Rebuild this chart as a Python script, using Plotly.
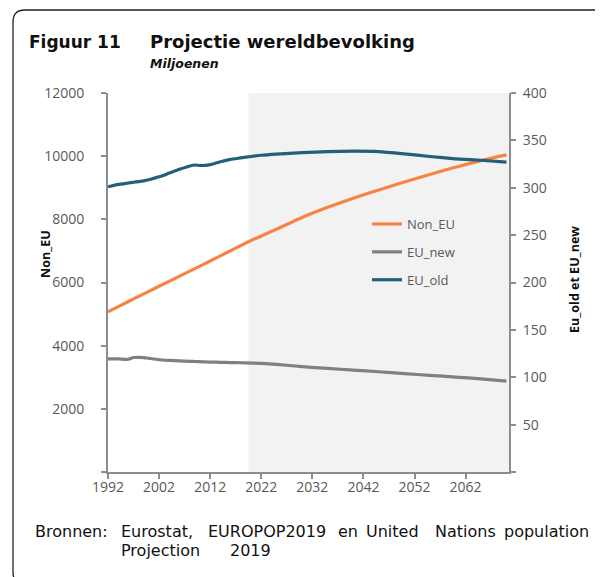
import plotly.graph_objects as go

# ---------------- data ----------------
years = [1992, 1994, 1996, 1997, 1998, 1999, 2000, 2002, 2004, 2006, 2008, 2009,
         2010, 2011, 2012, 2014, 2016, 2018, 2020, 2022, 2025, 2030, 2035, 2040,
         2045, 2050, 2055, 2060, 2065, 2070]

non_eu = [5070, 5235, 5400, 5480, 5560, 5640, 5720, 5880, 6040, 6200, 6360, 6440,
          6520, 6600, 6680, 6845, 7005, 7170, 7330, 7470, 7690, 8060, 8380, 8670,
          8930, 9180, 9420, 9650, 9860, 10040]

eu_new = [119.3, 119.3, 119.0, 120.8, 121.0, 120.8, 120.0, 118.5, 117.8, 117.3, 116.8, 116.6,
          116.4, 116.2, 116.0, 115.8, 115.5, 115.3, 115.0, 114.7, 113.6, 111.2, 109.3, 107.6,
          105.8, 103.8, 102.0, 100.2, 98.3, 96.0]

eu_old = [301.0, 303.5, 305.0, 305.8, 306.5, 307.3, 308.5, 311.5, 315.5, 319.5, 323.0, 324.0,
          323.5, 323.6, 324.4, 327.5, 330.0, 331.5, 333.0, 334.3, 335.5, 337.0, 338.2, 338.6,
          338.2, 335.8, 333.0, 330.5, 329.0, 327.0]

x_tick_years = [1992, 2002, 2012, 2022, 2032, 2042, 2052, 2062]
left_ticks = [0, 2000, 4000, 6000, 8000, 10000, 12000]
right_ticks = [0, 50, 100, 150, 200, 250, 300, 350, 400]
projection_start = 2019.5
projection_end = 2070.5

# ---------------- layout geometry ----------------
# the page body has an 8px margin, so the figure is 8px smaller and window
# coordinates below are converted relative to the plot area.
OFF = 8
W, H = 603 - OFF, 577 - OFF
L, R, T, B = 108, 509, 93, 472  # plot area in window pixels


def px(X):
    return (X - L) / (R - L)


def py(Y):
    return (B - Y) / (B - T)


TICK_FONT = dict(family="Open Sans", size=14, color="#595959")
AXIS_COL = "#8C8C8C"

fig = go.Figure()

fig.add_trace(go.Scatter(x=years, y=non_eu, name="Non_EU", mode="lines",
                         line=dict(color="#F58445", width=3.2, shape="spline", smoothing=0.5),
                         legendgroup="a", yaxis="y"))
fig.add_trace(go.Scatter(x=years, y=eu_new, name="EU_new", mode="lines",
                         line=dict(color="#808080", width=3.2, shape="spline", smoothing=0.5),
                         legendgroup="b", yaxis="y2"))
fig.add_trace(go.Scatter(x=years, y=eu_old, name="EU_old", mode="lines",
                         line=dict(color="#245F79", width=3.2, shape="spline", smoothing=0.5),
                         legendgroup="c", yaxis="y2"))

# shaded projection period
fig.add_shape(type="rect", xref="x", yref="paper", x0=projection_start, x1=projection_end,
              y0=0, y1=1, fillcolor="#F2F2F2", line=dict(width=0), layer="below")

# rounded frame around the figure
r = 12
x0f, y0f, x1f, y1f = 13, 10, 609, 584
path = (f"M {px(x0f)},{py(y1f - r)} L {px(x0f)},{py(y0f + r)} "
        f"Q {px(x0f)},{py(y0f)} {px(x0f + r)},{py(y0f)} "
        f"L {px(x1f - r)},{py(y0f)} Q {px(x1f)},{py(y0f)} {px(x1f)},{py(y0f + r)} "
        f"L {px(x1f)},{py(y1f - r)} Q {px(x1f)},{py(y1f)} {px(x1f - r)},{py(y1f)} "
        f"L {px(x0f + r)},{py(y1f)} Q {px(x0f)},{py(y1f)} {px(x0f)},{py(y1f - r)} Z")
fig.add_shape(type="path", xref="paper", yref="paper", path=path,
              line=dict(color="#222222", width=1.3), layer="above")

TITLE_FONT = dict(family="DejaVu Sans", size=18, color="#111111")
annotations = [
    dict(text="<b>Figuur 11</b>", x=px(27), y=py(54), xanchor="left", yanchor="bottom",
         font=dict(family="DejaVu Sans", size=17, color="#111111")),
    dict(text="<b>Projectie wereldbevolking</b>", x=px(148), y=py(54), xanchor="left",
         yanchor="bottom", font=TITLE_FONT),
    dict(text="<b><i>Miljoenen</i></b>", x=px(148), y=py(73), xanchor="left", yanchor="bottom",
         font=dict(family="DejaVu Sans", size=12.5, color="#111111")),
    dict(text="<b>Non_EU</b>", x=px(45), y=py(254), xanchor="center", yanchor="middle",
         textangle=-90, font=dict(family="Open Sans", size=12.5, color="#111111")),
    dict(text="<b>Eu_old et EU_new</b>", x=px(574), y=py(280), xanchor="center", yanchor="middle",
         textangle=-90, font=dict(family="Open Sans", size=12.5, color="#111111")),
]

SRC_FONT = dict(family="DejaVu Sans", size=16, color="#111111")
source_words = [("Bronnen:", 33, 531), ("Eurostat,", 119, 531), ("EUROPOP2019", 206, 531),
                ("en", 336, 531), ("United", 364, 531), ("Nations", 433, 531),
                ("population", 502, 531), ("Projection", 119, 550), ("2019", 228, 550)]
for w, xw, yw in source_words:
    annotations.append(dict(text=w, x=px(xw), y=py(yw), xanchor="left", yanchor="middle",
                            font=SRC_FONT))
for a in annotations:
    a.update(xref="paper", yref="paper", showarrow=False)

fig.update_layout(
    width=W, height=H,
    margin=dict(l=L - OFF, r=W - (R - OFF), t=T - OFF, b=H - (B - OFF), pad=0),
    paper_bgcolor="white", plot_bgcolor="rgba(0,0,0,0)",
    showlegend=True,
    legend=dict(x=px(367), y=py(209), xanchor="left", yanchor="top",
                font=dict(family="Open Sans", size=13, color="#595959"),
                bgcolor="rgba(0,0,0,0)", traceorder="grouped", tracegroupgap=8),
    xaxis=dict(range=[1992, projection_end], tickvals=x_tick_years,
               ticktext=[str(v) for v in x_tick_years],
               showgrid=False, zeroline=False, showline=True, linecolor=AXIS_COL, linewidth=2,
               ticks="outside", ticklen=5, tickwidth=2, tickcolor=AXIS_COL, tickfont=TICK_FONT,
               ticklabelstandoff=-4),
    yaxis=dict(range=[0, 12000], tickvals=left_ticks,
               ticktext=["" if v == 0 else str(v) for v in left_ticks],
               showgrid=False, zeroline=False, showline=True, linecolor=AXIS_COL, linewidth=2,
               ticks="outside", ticklen=5, tickwidth=2, tickcolor=AXIS_COL, tickfont=TICK_FONT,
               ticklabelstandoff=14),
    yaxis2=dict(range=[0, 400], tickvals=right_ticks,
                ticktext=["" if v == 0 else str(v) for v in right_ticks],
                overlaying="y", side="right", anchor="x",
                showgrid=False, zeroline=False, showline=True, linecolor=AXIS_COL, linewidth=2,
                ticks="outside", ticklen=5, tickwidth=2, tickcolor=AXIS_COL, tickfont=TICK_FONT,
                ticklabelstandoff=4),
    annotations=annotations,
)

fig.write_html("out.html")
